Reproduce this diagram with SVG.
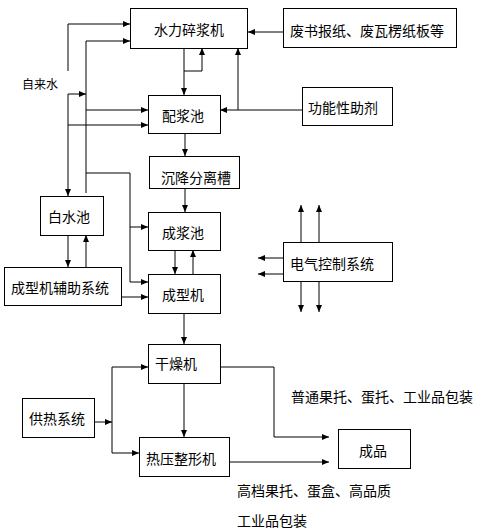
<svg xmlns="http://www.w3.org/2000/svg" width="482" height="532" viewBox="0 0 482 532">
<style>
.box{fill:#fff;stroke:#000;stroke-width:1}
.t{font-family:"Noto Sans CJK SC","Liberation Sans",sans-serif;font-size:14px;fill:#000;dominant-baseline:central}
.c{text-anchor:middle}
.ln{fill:none;stroke:#000;stroke-width:1}
</style>
<defs>
<marker id="a" markerUnits="userSpaceOnUse" markerWidth="8" markerHeight="8" refX="7" refY="4" orient="auto">
<path d="M0,1 L7,4 L0,7 Z" fill="#000"/>
</marker>
</defs>
<rect width="482" height="532" fill="#fff"/>
<g id="connectors">
<!-- water supply -->
<path class="ln" d="M68,71 V24 H130" marker-end="url(#a)"/>
<path class="ln" d="M86,193 V41 H130" marker-end="url(#a)"/>
<path class="ln" d="M68,94 H86" marker-end="url(#a)"/>
<path class="ln" d="M68,94 V196" marker-end="url(#a)"/>
<path class="ln" d="M86,110 H148" marker-end="url(#a)"/>
<path class="ln" d="M68,125 H148" marker-end="url(#a)"/>
<path class="ln" d="M86,173 H130 V227 H148" marker-end="url(#a)"/>
<path class="ln" d="M130,227 V282 H148" marker-end="url(#a)"/>
<!-- white water / aux -->
<path class="ln" d="M68,235 V267" marker-end="url(#a)"/>
<path class="ln" d="M86,267 V235" marker-end="url(#a)"/>
<path class="ln" d="M121,297 H148" marker-end="url(#a)"/>
<!-- pulper / mixing -->
<path class="ln" d="M184,48 V95" marker-end="url(#a)"/>
<path class="ln" d="M184,71 H202 V48" marker-end="url(#a)"/>
<path class="ln" d="M238,110 V48" marker-end="url(#a)"/>
<path class="ln" d="M302,110 H220" marker-end="url(#a)"/>
<path class="ln" d="M283,32 H248" marker-end="url(#a)"/>
<path class="ln" d="M185,133 V156" marker-end="url(#a)"/>
<path class="ln" d="M185,188 V212" marker-end="url(#a)"/>
<path class="ln" d="M175,250 V274" marker-end="url(#a)"/>
<path class="ln" d="M193,274 V250" marker-end="url(#a)"/>
<path class="ln" d="M184,313 V344" marker-end="url(#a)"/>
<path class="ln" d="M184,383 V437" marker-end="url(#a)"/>
<!-- outputs -->
<path class="ln" d="M220,367 H274 V437 H329" marker-end="url(#a)"/>
<path class="ln" d="M229,462 H329" marker-end="url(#a)"/>
<!-- heat supply -->
<path class="ln" d="M94,422 H112" marker-end="url(#a)"/>
<path class="ln" d="M112,367 V453"/>
<path class="ln" d="M112,367 H148" marker-end="url(#a)"/>
<path class="ln" d="M112,453 H139" marker-end="url(#a)"/>
<!-- electrical control -->
<path class="ln" d="M301,242 V205" marker-end="url(#a)"/>
<path class="ln" d="M319,242 V205" marker-end="url(#a)"/>
<path class="ln" d="M301,281 V312" marker-end="url(#a)"/>
<path class="ln" d="M319,281 V312" marker-end="url(#a)"/>
<path class="ln" d="M283,258 H258" marker-end="url(#a)"/>
<path class="ln" d="M283,274 H258" marker-end="url(#a)"/>
</g>
<g id="n-pulper"><rect class="box" x="130.5" y="8.5" width="117" height="40"/><text class="t c" x="189" y="29">水力碎浆机</text></g>
<g id="n-waste"><rect class="box" x="283.5" y="8.5" width="173" height="39"/><text class="t c" x="367" y="30">废书报纸、废瓦楞纸板等</text></g>
<g id="n-mix"><rect class="box" x="148.5" y="95.5" width="72" height="38"/><text class="t c" x="183" y="115">配浆池</text></g>
<g id="n-additive"><rect class="box" x="302.5" y="87.5" width="90" height="38"/><text class="t c" x="343" y="107">功能性助剂</text></g>
<g id="n-settle"><rect class="box" x="149.5" y="156.5" width="90" height="32"/><text class="t c" x="196" y="177">沉降分离槽</text></g>
<g id="n-whitewater"><rect class="box" x="40.5" y="196.5" width="63" height="39"/><text class="t c" x="69" y="216">白水池</text></g>
<g id="n-stock"><rect class="box" x="148.5" y="212.5" width="72" height="38"/><text class="t c" x="183" y="232">成浆池</text></g>
<g id="n-aux"><rect class="box" x="4.5" y="267.5" width="117" height="38"/><text class="t c" x="60" y="287">成型机辅助系统</text></g>
<g id="n-former"><rect class="box" x="148.5" y="274.5" width="72" height="39"/><text class="t c" x="183" y="294">成型机</text></g>
<g id="n-elec"><rect class="box" x="283.5" y="242.5" width="109" height="39"/><text class="t c" x="332" y="263">电气控制系统</text></g>
<g id="n-dryer"><rect class="box" x="148.5" y="344.5" width="72" height="39"/><text class="t c" x="176" y="363">干燥机</text></g>
<g id="n-heat"><rect class="box" x="22.5" y="398.5" width="72" height="39"/><text class="t c" x="57" y="418">供热系统</text></g>
<g id="n-press"><rect class="box" x="139.5" y="437.5" width="90" height="39"/><text class="t c" x="181" y="458">热压整形机</text></g>
<g id="n-product"><rect class="box" x="338.5" y="429.5" width="72" height="39"/><text class="t c" x="373" y="450">成品</text></g>
<g id="labels">
<text class="t" x="22" y="83" style="font-size:12px">自来水</text>
<text class="t" x="291" y="396">普通果托、蛋托、工业品包装</text>
<text class="t" x="237" y="490">高档果托、蛋盒、高品质</text>
<text class="t" x="237" y="520">工业品包装</text>
</g>
</svg>
